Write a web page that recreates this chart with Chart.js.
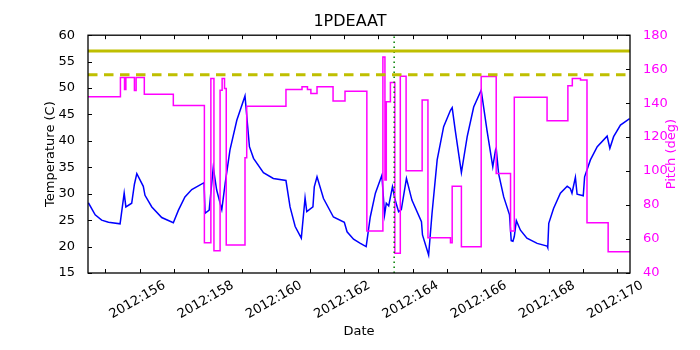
<!DOCTYPE html>
<html>
<head>
<meta charset="utf-8">
<script src="https://cdn.jsdelivr.net/npm/chart.js@4/dist/chart.umd.min.js"></script>
<style>
  html, body { margin: 0; padding: 0; background: #fff; }
  #wrap { width: 700px; height: 350px; }
</style>
</head>
<body>
<div id="wrap"><canvas id="chart"></canvas></div>
<script>
// temperature (C), day of year 2012
var tempDays = [154.50, 154.70, 154.89, 155.09, 155.43, 155.55, 155.60, 155.77, 155.85, 155.92,
    156.11, 156.16, 156.36, 156.65, 156.99, 157.14, 157.33, 157.53, 157.89, 157.92,
    158.04, 158.16, 158.26, 158.41, 158.51, 158.65, 158.85, 159.09, 159.22, 159.34,
    159.63, 159.92, 160.29, 160.41, 160.56, 160.74, 160.85, 160.90, 161.08, 161.12,
    161.20, 161.39, 161.68, 162.00, 162.08, 162.27, 162.47, 162.64, 162.76, 162.91,
    163.10, 163.18, 163.23, 163.30, 163.41, 163.49, 163.59, 163.67, 163.82, 163.98,
    164.26, 164.29, 164.47, 164.57, 164.72, 164.91, 165.11, 165.16, 165.25, 165.43,
    165.60, 165.79, 166.01, 166.18, 166.35, 166.43, 166.45, 166.52, 166.67, 166.84,
    166.89, 166.94, 166.98, 167.04, 167.16, 167.35, 167.65, 167.94, 167.96, 167.99,
    168.13, 168.33, 168.53, 168.62, 168.67, 168.77, 168.82, 169.00, 169.04, 169.21,
    169.41, 169.70, 169.78, 169.89, 170.09, 170.36];
var tempValues = [28.3, 26.0, 25.0, 24.6, 24.3, 30.1, 27.5, 28.2, 31.8, 33.8,
    31.4, 29.7, 27.5, 25.5, 24.5, 26.9, 29.4, 30.8, 32.1, 26.3,
    26.9, 35.0, 30.7, 27.0, 32.0, 38.3, 43.9, 48.5, 38.9, 36.7,
    34.0, 32.9, 32.5, 27.5, 23.8, 21.6, 29.2, 26.6, 27.5, 31.3,
    33.2, 29.1, 25.6, 24.6, 22.8, 21.4, 20.6, 20.0, 25.6, 30.1,
    33.5, 26.0, 28.2, 27.7, 31.3, 28.8, 26.6, 27.0, 32.9, 28.8,
    24.7, 22.2, 18.4, 26.3, 36.4, 42.7, 45.8, 46.3, 42.0, 34.0,
    40.8, 46.4, 49.6, 42.0, 35.1, 38.3, 38.6, 33.8, 29.4, 26.0,
    21.1, 21.0, 21.9, 24.9, 23.1, 21.6, 20.6, 20.1, 19.8, 24.4,
    27.2, 30.1, 31.4, 31.0, 30.1, 33.1, 29.9, 29.6, 33.2, 36.4,
    38.9, 40.9, 38.6, 40.8, 43.0, 44.2];

// pitch (deg), each value holds from its day until the next one
var pitchDays = [154.49, 155.44, 155.56, 155.60, 155.85, 155.90, 156.14, 156.99, 157.90, 158.09,
    158.18, 158.36, 158.42, 158.49, 158.54, 159.09, 159.14, 160.29, 160.76, 160.92,
    161.02, 161.20, 161.67, 162.02, 162.66, 163.13, 163.19, 163.23, 163.35, 163.48,
    163.64, 163.81, 164.28, 164.45, 165.11, 165.16, 165.43, 166.01, 166.45, 166.87,
    166.98, 167.94, 168.55, 168.68, 168.92, 169.11, 169.73, 170.37];
var pitchValues = [143.7, 155.1, 148.0, 155.1, 147.5, 155.1, 145.3, 138.6, 57.8, 154.5,
    53.1, 147.6, 154.5, 148.6, 56.5, 107.8, 138.2, 148.0, 149.6, 148.0,
    145.7, 149.6, 141.2, 147.0, 64.7, 167.2, 94.7, 140.8, 152.2, 51.6,
    155.9, 100.2, 141.8, 60.8, 57.8, 91.0, 55.5, 155.7, 98.6, 64.7,
    143.4, 129.6, 150.2, 154.5, 153.6, 69.6, 52.5, 52.5];

var xMin = 154.49, xMax = 170.37;
var dayTicks = [155, 156, 157, 158, 159, 160, 161, 162, 163, 164, 165, 166, 167, 168, 169, 170];
var dayLabels = [156, 158, 160, 162, 164, 166, 168, 170];
var limitHigh = 57;
var limitLow = 52.5;
var markerDay = 163.46;

var FONT = 'DejaVu Sans';

function pairs(xs, ys) {
    return xs.map(function (x, i) { return { x: x, y: ys[i] }; });
}

// inward ticks on all four sides, the frame, rotated date labels
// (centred on the tick like the original) and the right axis title
var frameTicks = {
    id: 'frameTicks',
    afterDatasetsDraw: function (chart) {
        var ctx = chart.ctx, a = chart.chartArea;
        var xs = chart.scales.x, yl = chart.scales.y, yr = chart.scales.y1;
        ctx.save();
        ctx.strokeStyle = '#000';
        ctx.lineWidth = 1;
        ctx.beginPath();
        xs.ticks.forEach(function (t) {
            var px = Math.round(xs.getPixelForValue(t.value)) + 0.5;
            ctx.moveTo(px, a.bottom); ctx.lineTo(px, a.bottom - 4);
            ctx.moveTo(px, a.top); ctx.lineTo(px, a.top + 4);
        });
        yl.ticks.forEach(function (t) {
            var py = Math.round(yl.getPixelForValue(t.value)) + 0.5;
            ctx.moveTo(a.left, py); ctx.lineTo(a.left + 4, py);
        });
        yr.ticks.forEach(function (t) {
            var py = Math.round(yr.getPixelForValue(t.value)) + 0.5;
            ctx.moveTo(a.right, py); ctx.lineTo(a.right - 4, py);
        });
        ctx.stroke();
        ctx.lineWidth = 1.3;
        ctx.strokeRect(a.left, a.top, a.right - a.left, a.bottom - a.top);

        var ang = Math.PI / 6;
        ctx.font = '13px "' + FONT + '"';
        ctx.fillStyle = '#000';
        ctx.textAlign = 'center';
        ctx.textBaseline = 'middle';
        dayLabels.forEach(function (d) {
            var txt = '2012:' + d;
            var L = ctx.measureText(txt).width, h = 13 * 1.15;
            var H = L * Math.sin(ang) + h * Math.cos(ang);
            var cx = xs.getPixelForValue(d) - 2;
            var cy = a.bottom + 5 + H / 2;
            ctx.save();
            ctx.translate(cx, cy);
            ctx.rotate(-ang);
            ctx.fillText(txt, 0, 0);
            ctx.restore();
        });

        ctx.save();
        ctx.fillStyle = '#ff00ff';
        ctx.translate(672, (a.top + a.bottom) / 2);
        ctx.rotate(-Math.PI / 2);
        ctx.fillText('Pitch (deg)', 0, 0);
        ctx.restore();
        ctx.restore();
    }
};

var ctx = document.getElementById('chart').getContext('2d');
var myChart = new Chart(ctx, {
    type: 'line',
    data: {
        datasets: [
            {
                label: 'limit',
                data: pairs([xMin, xMax], [limitHigh, limitHigh]),
                yAxisID: 'y',
                borderColor: 'rgb(191,191,0)',
                borderWidth: 3,
                pointRadius: 0,
                order: 0
            },
            {
                label: 'caution',
                data: pairs([xMin, xMax], [limitLow, limitLow]),
                yAxisID: 'y',
                borderColor: 'rgb(191,191,0)',
                borderWidth: 3,
                borderDash: [9.5, 6.5],
                pointRadius: 0,
                order: 0
            },
            {
                label: 'now',
                data: pairs([markerDay, markerDay], [15, 60]),
                yAxisID: 'y',
                borderColor: 'green',
                borderWidth: 1.5,
                borderDash: [1.5, 3.5],
                pointRadius: 0,
                order: 0
            },
            {
                label: 'Pitch',
                data: pairs(pitchDays, pitchValues),
                yAxisID: 'y1',
                stepped: true,
                borderColor: '#ff00ff',
                borderWidth: 1.5,
                pointRadius: 0,
                order: 1
            },
            {
                label: '1PDEAAT',
                data: pairs(tempDays, tempValues),
                yAxisID: 'y',
                borderColor: '#0000ff',
                borderWidth: 1.5,
                tension: 0,
                pointRadius: 0,
                order: 2
            }
        ]
    },
    plugins: [frameTicks],
    options: {
        responsive: true,
        maintainAspectRatio: false,
        animation: false,
        layout: { padding: 0 },
        plugins: {
            legend: { display: false },
            tooltip: { enabled: false },
            title: {
                display: true,
                text: '1PDEAAT',
                color: '#000',
                font: { family: FONT, size: 16, weight: 'normal' },
                padding: { top: 12, bottom: 4 }
            }
        },
        scales: {
            x: {
                type: 'linear',
                min: xMin,
                max: xMax,
                grid: { display: false },
                border: { display: false },
                afterBuildTicks: function (axis) {
                    axis.ticks = dayTicks.map(function (v) { return { value: v }; });
                },
                afterFit: function (axis) { axis.height = 77; },
                ticks: { display: false },
                title: {
                    display: true,
                    text: 'Date',
                    color: '#000',
                    font: { family: FONT, size: 13 },
                    padding: { top: 0, bottom: 11 }
                }
            },
            y: {
                position: 'left',
                min: 15,
                max: 60,
                grid: { display: false },
                border: { display: false },
                afterFit: function (axis) { axis.width = 88; },
                ticks: {
                    stepSize: 5,
                    padding: 5,
                    color: '#000',
                    font: { family: FONT, size: 13 }
                },
                title: {
                    display: true,
                    text: 'Temperature (C)',
                    color: '#000',
                    font: { family: FONT, size: 13 },
                    padding: { top: 43, bottom: 0 }
                }
            },
            y1: {
                position: 'right',
                min: 40,
                max: 180,
                grid: { display: false },
                border: { display: false },
                afterFit: function (axis) { axis.width = 70; },
                ticks: {
                    stepSize: 20,
                    padding: 5,
                    color: '#ff00ff',
                    font: { family: FONT, size: 13 }
                }
            }
        }
    }
});
</script>
</body>
</html>
